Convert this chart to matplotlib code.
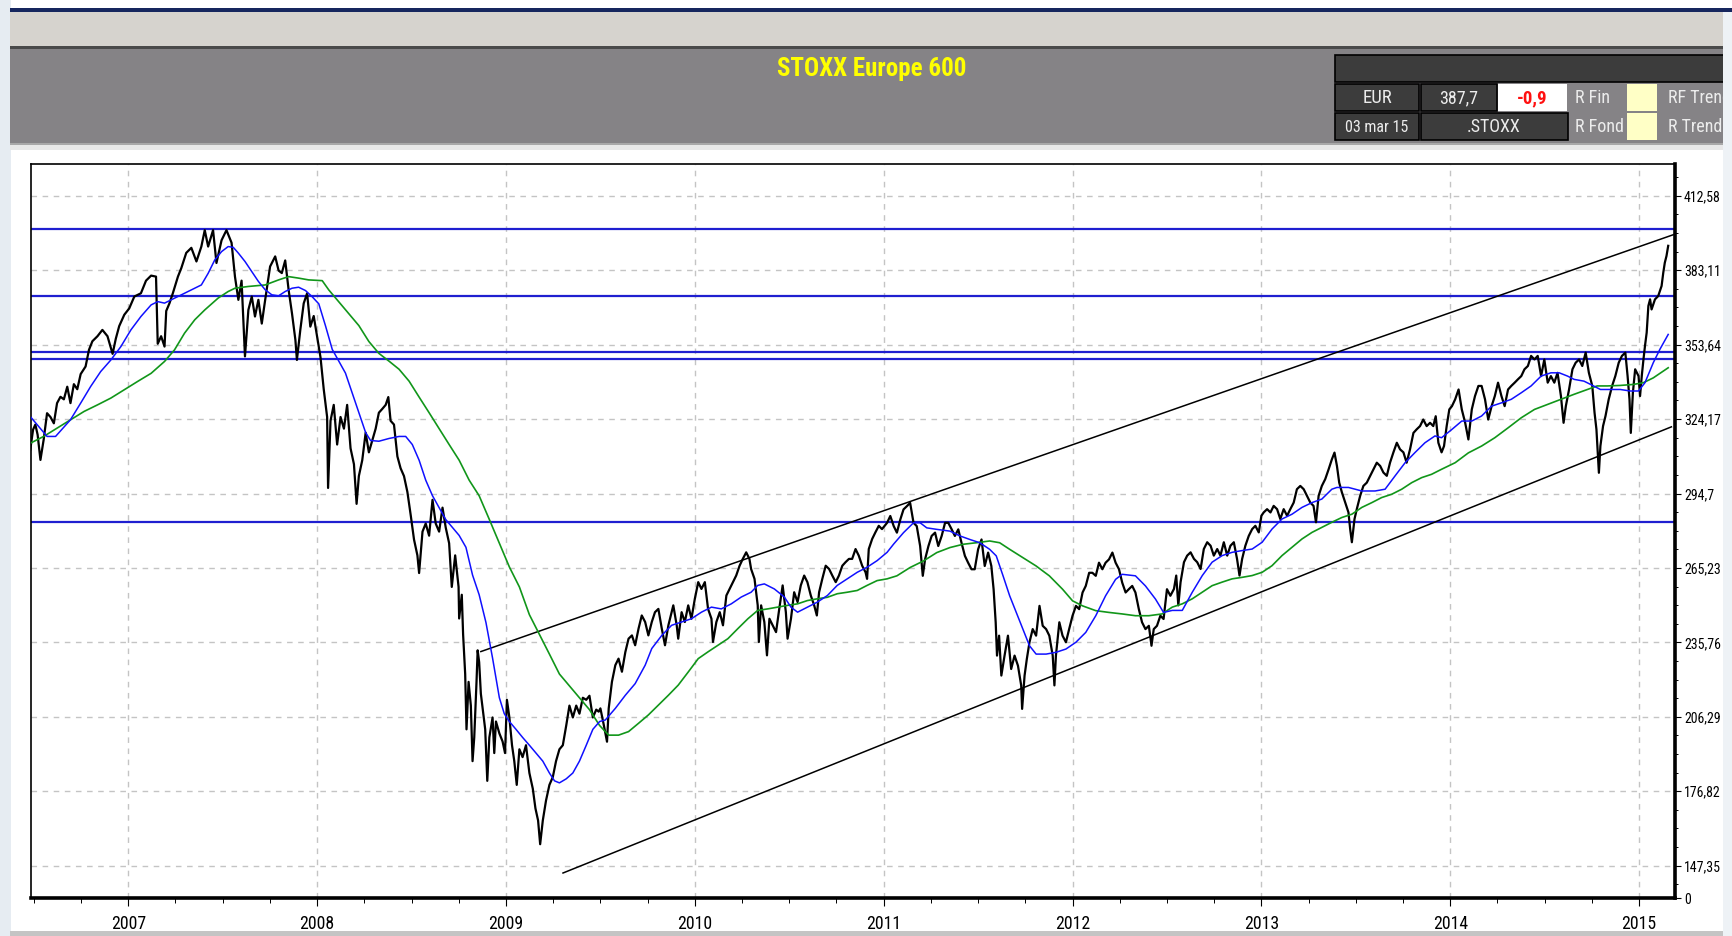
import os
import matplotlib
matplotlib.use("Agg")
import matplotlib.pyplot as plt
from matplotlib.patches import Rectangle
from matplotlib.ticker import FixedLocator, MultipleLocator
from matplotlib import font_manager
from matplotlib.font_manager import FontProperties

# --- data (decimal years, index points) ---
price_t = [
    2006.481, 2006.496, 2006.508, 2006.520, 2006.535, 2006.552, 2006.570, 2006.588, 2006.606, 2006.623,
    2006.641, 2006.659, 2006.677, 2006.694, 2006.712, 2006.730, 2006.748, 2006.774, 2006.792, 2006.810,
    2006.837, 2006.863, 2006.890, 2006.917, 2006.934, 2006.952, 2006.979, 2007.005, 2007.032, 2007.067,
    2007.094, 2007.121, 2007.147, 2007.156, 2007.174, 2007.192, 2007.201, 2007.218, 2007.236, 2007.263,
    2007.281, 2007.307, 2007.334, 2007.361, 2007.387, 2007.405, 2007.423, 2007.449, 2007.467, 2007.494,
    2007.520, 2007.547, 2007.565, 2007.583, 2007.600, 2007.618, 2007.636, 2007.654, 2007.671, 2007.689,
    2007.707, 2007.725, 2007.751, 2007.778, 2007.796, 2007.813, 2007.831, 2007.849, 2007.867, 2007.885,
    2007.893, 2007.911, 2007.929, 2007.947, 2007.964, 2007.982, 2008.000,
    2008.018, 2008.035, 2008.053, 2008.058, 2008.071, 2008.088, 2008.106, 2008.124, 2008.142, 2008.159,
    2008.177, 2008.195, 2008.209, 2008.221, 2008.239, 2008.257, 2008.274, 2008.292, 2008.310, 2008.327,
    2008.345, 2008.363, 2008.377, 2008.389, 2008.407, 2008.425, 2008.442, 2008.460, 2008.478, 2008.496,
    2008.513, 2008.531, 2008.540, 2008.558, 2008.575, 2008.593, 2008.611, 2008.628, 2008.646, 2008.664,
    2008.681, 2008.699, 2008.713, 2008.731, 2008.749, 2008.752, 2008.766, 2008.773, 2008.784, 2008.791,
    2008.802, 2008.814, 2008.823, 2008.832, 2008.844, 2008.850, 2008.858, 2008.867, 2008.880, 2008.890,
    2008.901, 2008.912, 2008.929, 2008.938, 2008.947, 2008.965, 2008.982, 2008.995, 2009.005, 2009.018,
    2009.032, 2009.044, 2009.057, 2009.071, 2009.088, 2009.106, 2009.124, 2009.142, 2009.156, 2009.170,
    2009.181, 2009.195, 2009.212, 2009.230, 2009.248, 2009.265, 2009.283, 2009.301, 2009.319, 2009.336,
    2009.354, 2009.372, 2009.389, 2009.407, 2009.425, 2009.442, 2009.460, 2009.478,
    2009.491, 2009.500, 2009.518, 2009.535, 2009.544, 2009.561, 2009.579, 2009.596, 2009.614, 2009.632,
    2009.649, 2009.667, 2009.684, 2009.702, 2009.719, 2009.737, 2009.754, 2009.772, 2009.789, 2009.807,
    2009.825, 2009.842, 2009.860, 2009.886, 2009.904, 2009.912, 2009.930, 2009.947, 2009.965, 2009.982,
    2010.000, 2010.018, 2010.035, 2010.053, 2010.070, 2010.088, 2010.096, 2010.114, 2010.132, 2010.149,
    2010.167, 2010.184, 2010.202, 2010.219, 2010.237, 2010.254, 2010.272, 2010.289, 2010.298, 2010.316,
    2010.333, 2010.339, 2010.351, 2010.368, 2010.382, 2010.395, 2010.412, 2010.430, 2010.447, 2010.465,
    2010.482, 2010.491, 2010.509, 2010.526, 2010.544, 2010.561, 2010.579, 2010.596, 2010.614, 2010.632,
    2010.646, 2010.658, 2010.675, 2010.693, 2010.711, 2010.728, 2010.746, 2010.763, 2010.781, 2010.798,
    2010.816, 2010.833, 2010.851, 2010.868, 2010.886, 2010.904, 2010.912, 2010.921, 2010.939, 2010.956,
    2010.974, 2010.991,
    2011.018, 2011.035, 2011.053, 2011.070, 2011.088, 2011.105, 2011.123, 2011.140, 2011.158, 2011.175,
    2011.193, 2011.207, 2011.219, 2011.237, 2011.254, 2011.272, 2011.289, 2011.307, 2011.325, 2011.342,
    2011.360, 2011.377, 2011.395, 2011.412, 2011.430, 2011.447, 2011.465, 2011.482, 2011.500, 2011.518,
    2011.535, 2011.553, 2011.570, 2011.582, 2011.593, 2011.600, 2011.611, 2011.623, 2011.640, 2011.658,
    2011.675, 2011.693, 2011.711, 2011.728, 2011.733, 2011.746, 2011.758, 2011.772, 2011.789, 2011.807,
    2011.825, 2011.842, 2011.860, 2011.877, 2011.895, 2011.904, 2011.912, 2011.930, 2011.947, 2011.965,
    2011.982, 2012.000, 2012.018, 2012.035, 2012.053, 2012.070, 2012.088, 2012.105, 2012.123, 2012.140,
    2012.158, 2012.175, 2012.193, 2012.211, 2012.228, 2012.246, 2012.263, 2012.281, 2012.298, 2012.316,
    2012.333, 2012.351, 2012.368, 2012.386, 2012.404, 2012.418, 2012.430, 2012.447, 2012.465, 2012.482,
    2012.500, 2012.518,
    2012.537, 2012.549, 2012.560, 2012.572, 2012.590, 2012.607, 2012.625, 2012.643, 2012.660, 2012.678,
    2012.695, 2012.713, 2012.731, 2012.748, 2012.766, 2012.783, 2012.801, 2012.819, 2012.836, 2012.854,
    2012.871, 2012.884, 2012.898, 2012.915, 2012.933, 2012.951, 2012.968, 2012.986, 2013.000, 2013.012,
    2013.030, 2013.048, 2013.065, 2013.083, 2013.100, 2013.118, 2013.136, 2013.153, 2013.171, 2013.188,
    2013.206, 2013.224, 2013.241, 2013.259, 2013.276, 2013.289, 2013.303, 2013.320, 2013.338, 2013.356,
    2013.373, 2013.387, 2013.400, 2013.412, 2013.426, 2013.444, 2013.461, 2013.470, 2013.479, 2013.493,
    2013.505, 2013.523, 2013.540, 2013.558, 2013.576, 2013.593, 2013.611, 2013.629, 2013.646, 2013.664,
    2013.681, 2013.699, 2013.717, 2013.734, 2013.752, 2013.769, 2013.787, 2013.805, 2013.822, 2013.840,
    2013.857, 2013.875, 2013.893, 2013.910, 2013.923, 2013.937, 2013.954, 2013.967, 2013.981, 2013.995,
    2014.009, 2014.026, 2014.044, 2014.061, 2014.079, 2014.096, 2014.114, 2014.131, 2014.149, 2014.166,
    2014.184, 2014.201, 2014.219, 2014.236, 2014.253, 2014.271, 2014.288, 2014.306, 2014.323, 2014.341,
    2014.358, 2014.376, 2014.393, 2014.411, 2014.428, 2014.446, 2014.463, 2014.481, 2014.498, 2014.516,
    2014.533, 2014.551, 2014.568, 2014.586, 2014.600, 2014.612, 2014.629, 2014.647, 2014.664, 2014.682,
    2014.699, 2014.717, 2014.734, 2014.752, 2014.764, 2014.774, 2014.787, 2014.795, 2014.809, 2014.822,
    2014.839, 2014.857, 2014.874, 2014.892, 2014.909, 2014.927, 2014.939, 2014.949, 2014.956, 2014.967,
    2014.979, 2014.997, 2015.005, 2015.014, 2015.023, 2015.031, 2015.040, 2015.049, 2015.058, 2015.066,
    2015.084, 2015.101, 2015.119, 2015.128, 2015.136, 2015.145, 2015.154,
]
price_v = [
    312.0, 320.0, 322.0, 318.0, 308.0, 316.0, 326.5, 325.0, 322.5, 330.5,
    333.0, 332.0, 337.0, 330.5, 338.0, 336.0, 342.0, 345.0, 351.6, 355.0,
    357.0, 359.5, 357.0, 350.0, 356.0, 361.0, 365.5, 368.0, 372.7, 374.0,
    379.0, 381.0, 380.6, 354.0, 357.0, 352.9, 367.0, 370.0, 374.0, 380.6,
    384.0, 390.0, 392.0, 386.6, 392.5, 399.0, 392.5, 399.0, 386.0, 395.0,
    399.0, 394.0, 380.6, 371.4, 379.0, 349.0, 367.4, 372.7, 364.8, 371.4,
    362.0, 371.4, 384.6, 388.6, 383.0, 382.0, 387.0, 375.4, 366.0, 355.5,
    347.6, 359.5, 370.0, 374.0, 360.8, 365.0, 356.9,
    348.6, 336.0, 325.0, 296.9, 323.5, 329.8, 314.1, 325.0, 320.4, 329.8,
    312.6, 306.3, 290.6, 301.6, 307.9, 318.8, 311.0, 315.7, 320.4, 326.7,
    328.2, 329.8, 332.9, 323.5, 322.0, 309.4, 304.7, 301.6, 295.3, 285.9,
    276.5, 270.2, 263.2, 279.6, 282.8, 278.0, 292.2, 282.8, 279.6, 289.1,
    281.2, 275.0, 257.7, 270.2, 257.7, 245.2, 254.6, 238.9, 223.2, 201.3,
    220.1, 210.7, 188.7, 198.1, 220.1, 232.6, 227.9, 215.4, 207.5, 201.3,
    180.9, 198.1, 206.0, 191.9, 204.4, 199.7, 196.5, 191.9, 213.0, 206.0,
    195.0, 188.7, 179.3, 193.4, 190.3, 195.0, 184.0, 177.8, 170.0, 165.2,
    155.8, 165.2, 173.1, 179.3, 182.4, 188.7, 193.4, 195.0, 202.8, 210.7,
    206.0, 210.7, 207.5, 213.8, 213.0, 214.6, 206.0, 209.1,
    208.3, 209.6, 203.0, 196.4, 209.6, 220.1, 226.7, 229.3, 224.1, 231.9,
    237.2, 238.5, 234.6, 241.2, 246.4, 243.8, 238.5, 243.8, 247.7, 249.0,
    241.2, 234.6, 242.5, 250.4, 242.5, 237.2, 247.7, 243.8, 250.4, 245.1,
    253.0, 259.6, 256.9, 259.6, 249.0, 245.1, 235.9, 243.8, 247.7, 242.5,
    254.3, 256.9, 259.6, 262.2, 266.1, 268.8, 271.4, 268.8, 264.8, 260.9,
    250.4, 235.9, 250.4, 243.8, 230.6, 245.1, 242.5, 239.8, 249.0, 258.3,
    247.7, 237.2, 245.1, 255.6, 251.7, 258.3, 262.2, 259.6, 254.3, 250.4,
    246.4, 255.6, 260.9, 266.1, 264.8, 262.2, 259.6, 262.2, 266.1, 267.5,
    268.8, 268.8, 272.7, 270.1, 266.1, 263.5, 260.9, 272.7, 276.7, 279.3,
    281.9, 280.6,
    283.1, 285.8, 281.8, 279.2, 284.4, 288.4, 289.7, 291.0, 283.1, 281.8,
    273.9, 262.1, 268.6, 273.9, 277.9, 279.2, 273.9, 277.9, 283.1, 283.1,
    280.5, 277.9, 280.5, 275.2, 270.0, 267.3, 264.7, 264.7, 272.6, 276.5,
    266.0, 271.3, 266.0, 256.8, 243.7, 230.5, 238.4, 222.6, 230.5, 238.4,
    225.2, 230.5, 226.5, 218.7, 209.4, 222.6, 229.2, 235.8, 241.0, 238.4,
    250.2, 242.3, 241.0, 238.4, 230.5, 218.7, 230.5, 243.7, 238.4, 235.8,
    241.0, 246.3, 250.2, 248.9, 255.5, 258.1, 263.3, 263.3, 262.1, 267.3,
    264.7, 267.3, 268.6, 271.3, 267.3, 264.7, 259.4, 255.5, 256.8, 258.1,
    255.5, 248.9, 243.7, 241.0, 242.3, 234.4, 241.0, 242.3, 246.3, 245.0,
    256.8, 254.2,
    256.9, 262.2, 250.4, 259.6, 267.5, 270.1, 271.4, 268.8, 267.5, 264.8,
    272.7, 275.4, 274.0, 270.1, 272.7, 270.1, 275.4, 270.1, 274.0, 275.4,
    268.8, 262.2, 268.8, 274.0, 277.9, 280.6, 281.9, 279.3, 285.9, 287.2,
    288.5, 287.2, 289.8, 288.5, 284.6, 288.5, 285.9, 288.5, 291.1, 296.4,
    297.7, 296.4, 293.8, 291.1, 289.8, 283.3, 293.8, 297.7, 300.4, 304.3,
    308.2, 310.9, 305.6, 299.0, 295.2, 291.1, 287.2, 280.6, 275.4, 284.6,
    288.5, 293.8, 297.7, 299.0, 301.7, 304.3, 306.9, 305.6, 303.0, 301.7,
    306.9, 311.0, 314.8, 312.2, 311.0, 306.9, 312.2, 318.7, 320.1, 321.4,
    324.0, 321.4, 322.7, 321.4, 325.3, 314.8, 311.0, 313.5, 321.4, 328.0,
    329.3, 332.0, 335.9, 328.0, 322.7, 316.1, 328.0, 333.3, 337.3, 337.3,
    332.0, 324.0, 329.3, 333.3, 338.6, 333.3, 329.3, 335.9, 337.3, 338.6,
    339.9, 341.2, 343.9, 345.2, 349.2, 347.8, 349.2, 341.2, 347.8, 338.6,
    341.2, 338.6, 342.5, 333.3, 322.7, 329.3, 335.9, 343.9, 346.5, 347.8,
    345.2, 350.5, 342.5, 337.3, 326.7, 320.1, 302.9, 313.5, 321.4, 325.4,
    332.0, 337.3, 341.2, 346.5, 349.2, 350.5, 341.2, 332.0, 318.7, 334.6,
    343.9, 341.2, 333.3, 341.2, 347.8, 353.1, 358.4, 369.0, 371.6, 367.6,
    371.6, 372.9, 376.9, 382.2, 386.1, 388.8, 392.8,
]

# short moving average (blue)
ma_fast_t = [
    2006.481, 2006.570, 2006.615, 2006.694, 2006.748, 2006.801, 2006.854, 2006.908, 2006.961, 2007.014,
    2007.067, 2007.121, 2007.156, 2007.192, 2007.227, 2007.281, 2007.334, 2007.387, 2007.423, 2007.458,
    2007.494, 2007.529, 2007.556, 2007.583, 2007.618, 2007.654, 2007.689, 2007.725, 2007.760, 2007.796,
    2007.831, 2007.867, 2007.902, 2007.938, 2007.973, 2008.009, 2008.044, 2008.080, 2008.115, 2008.150,
    2008.186, 2008.221, 2008.257, 2008.283, 2008.327, 2008.381, 2008.434, 2008.469, 2008.504, 2008.540,
    2008.575, 2008.611, 2008.646, 2008.681, 2008.717, 2008.752, 2008.788, 2008.823, 2008.858, 2008.894,
    2008.929, 2008.965, 2008.991, 2009.018, 2009.053, 2009.088, 2009.124, 2009.159, 2009.195, 2009.230,
    2009.257, 2009.283, 2009.319, 2009.354, 2009.389, 2009.425, 2009.460, 2009.496, 2009.526, 2009.579,
    2009.632, 2009.684, 2009.737, 2009.772, 2009.825, 2009.877, 2009.930, 2009.982, 2010.035, 2010.088,
    2010.140, 2010.193, 2010.246, 2010.298, 2010.333, 2010.368, 2010.421, 2010.474, 2010.509, 2010.544,
    2010.596, 2010.649, 2010.702, 2010.754, 2010.807, 2010.860, 2010.912, 2010.965, 2011.018, 2011.053,
    2011.105, 2011.158, 2011.193, 2011.228, 2011.281, 2011.351, 2011.404, 2011.456, 2011.509, 2011.561,
    2011.596, 2011.632, 2011.667, 2011.702, 2011.737, 2011.772, 2011.807, 2011.860, 2011.912, 2011.965,
    2012.018, 2012.070, 2012.123, 2012.175, 2012.228, 2012.263, 2012.333, 2012.386, 2012.439, 2012.482,
    2012.528, 2012.581, 2012.634, 2012.687, 2012.739, 2012.792, 2012.845, 2012.898, 2012.951, 2013.004,
    2013.056, 2013.109, 2013.162, 2013.215, 2013.268, 2013.320, 2013.373, 2013.400, 2013.461, 2013.532,
    2013.602, 2013.655, 2013.708, 2013.761, 2013.813, 2013.866, 2013.919, 2013.954, 2014.009, 2014.061,
    2014.114, 2014.166, 2014.219, 2014.271, 2014.323, 2014.376, 2014.428, 2014.481, 2014.533, 2014.577,
    2014.621, 2014.656, 2014.708, 2014.743, 2014.795, 2014.848, 2014.900, 2014.953, 2014.997, 2015.031,
    2015.075, 2015.110, 2015.154,
]
ma_fast_v = [
    325.2, 317.3, 317.3, 323.9, 330.5, 337.1, 343.0, 347.6, 352.9, 359.5,
    364.8, 369.4, 370.7, 370.1, 371.4, 373.4, 375.4, 377.3, 381.9, 387.2,
    390.5, 392.5, 392.2, 389.9, 386.6, 382.6, 378.7, 375.4, 373.4, 373.0,
    374.7, 376.0, 376.4, 375.1, 372.7, 369.8, 361.2, 351.8, 347.1, 342.4,
    334.5, 326.7, 318.8, 315.7, 315.4, 316.5, 317.3, 317.3, 314.1, 307.9,
    300.0, 293.8, 289.1, 284.4, 281.2, 278.1, 273.4, 262.4, 254.6, 243.6,
    229.5, 213.8, 207.5, 204.4, 201.3, 198.1, 195.0, 191.9, 188.7, 184.0,
    180.9, 180.1, 181.7, 184.0, 188.7, 195.0, 201.3, 204.4, 205.0, 209.6,
    214.8, 219.4, 226.7, 233.3, 238.5, 242.5, 243.8, 245.1, 247.7, 249.7,
    249.0, 251.0, 253.7, 255.6, 258.3, 258.9, 256.9, 253.7, 249.7, 247.7,
    249.7, 251.7, 254.3, 258.3, 260.9, 263.5, 265.5, 268.1, 271.4, 274.7,
    279.2, 283.1, 283.1, 281.1, 280.5, 279.8, 277.9, 276.5, 275.2, 272.6,
    270.0, 262.1, 254.2, 247.6, 241.0, 234.4, 231.1, 231.1, 231.8, 233.1,
    235.8, 239.7, 246.3, 254.2, 260.7, 262.7, 262.1, 258.1, 252.9, 247.6,
    248.4, 248.4, 255.6, 262.2, 267.5, 270.1, 271.4, 272.1, 272.7, 275.4,
    280.6, 284.6, 286.5, 289.2, 291.1, 292.5, 296.4, 297.1, 297.1, 295.7,
    295.7, 296.4, 301.7, 306.9, 310.9, 314.8, 317.5, 316.8, 320.1, 323.4,
    323.4, 325.4, 329.3, 330.6, 332.0, 334.6, 337.3, 341.2, 342.5, 342.5,
    341.2, 339.9, 339.2, 337.9, 335.9, 335.9, 335.9, 335.3, 335.3, 338.6,
    346.5, 351.8, 357.7,
]

# long moving average (green)
ma_slow_t = [
    2006.481, 2006.552, 2006.623, 2006.694, 2006.766, 2006.837, 2006.908, 2006.979, 2007.050, 2007.121,
    2007.192, 2007.245, 2007.298, 2007.352, 2007.405, 2007.476, 2007.529, 2007.565, 2007.636, 2007.725,
    2007.796, 2007.849, 2007.902, 2007.955, 2008.027, 2008.062, 2008.115, 2008.168, 2008.221, 2008.274,
    2008.327, 2008.381, 2008.434, 2008.487, 2008.540, 2008.593, 2008.646, 2008.699, 2008.752, 2008.805,
    2008.858, 2008.912, 2008.965, 2009.018, 2009.071, 2009.124, 2009.177, 2009.230, 2009.283, 2009.336,
    2009.389, 2009.442, 2009.496, 2009.544, 2009.596, 2009.649, 2009.702, 2009.754, 2009.807, 2009.860,
    2009.912, 2009.965, 2010.018, 2010.070, 2010.123, 2010.175, 2010.228, 2010.281, 2010.333, 2010.386,
    2010.439, 2010.491, 2010.544, 2010.596, 2010.649, 2010.702, 2010.754, 2010.807, 2010.860, 2010.912,
    2010.965, 2011.018, 2011.070, 2011.140, 2011.211, 2011.281, 2011.351, 2011.421, 2011.491, 2011.561,
    2011.614, 2011.667, 2011.737, 2011.807, 2011.877, 2011.947, 2012.000, 2012.053, 2012.123, 2012.193,
    2012.263, 2012.333, 2012.404, 2012.474, 2012.528, 2012.581, 2012.634, 2012.687, 2012.739, 2012.792,
    2012.845, 2012.898, 2012.951, 2013.004, 2013.056, 2013.109, 2013.162, 2013.215, 2013.268, 2013.320,
    2013.373, 2013.426, 2013.479, 2013.532, 2013.585, 2013.637, 2013.690, 2013.743, 2013.796, 2013.849,
    2013.901, 2013.954, 2014.026, 2014.096, 2014.166, 2014.236, 2014.306, 2014.376, 2014.446, 2014.516,
    2014.586, 2014.656, 2014.726, 2014.778, 2014.831, 2014.900, 2014.970, 2015.023, 2015.075, 2015.154,
]
ma_slow_v = [
    314.6, 317.3, 320.6, 323.9, 327.2, 329.8, 332.5, 335.8, 339.1, 342.3,
    347.0, 351.6, 358.2, 363.5, 367.4, 372.1, 374.7, 376.0, 376.7, 377.3,
    379.3, 380.6, 380.0, 379.3, 379.0, 375.3, 370.6, 365.9, 361.2, 354.9,
    350.2, 347.1, 343.9, 339.2, 332.9, 326.7, 320.4, 314.1, 307.9, 300.0,
    293.8, 284.4, 275.0, 265.6, 257.7, 246.7, 238.9, 231.1, 223.2, 218.5,
    213.8, 209.1, 202.8, 199.0, 199.0, 200.4, 203.7, 207.0, 210.9, 214.8,
    218.8, 224.0, 229.3, 232.0, 234.6, 237.2, 241.2, 245.1, 248.4, 249.0,
    249.7, 250.4, 251.0, 252.3, 253.0, 253.6, 255.0, 255.6, 256.3, 258.3,
    260.2, 260.9, 262.1, 265.4, 268.0, 271.3, 273.3, 274.6, 275.2, 275.9,
    275.2, 272.6, 269.3, 266.0, 262.1, 256.8, 252.2, 250.2, 248.3, 247.6,
    247.0, 246.3, 246.3, 247.0, 249.7, 251.0, 253.0, 255.6, 258.2, 259.6,
    260.9, 261.5, 262.2, 263.5, 266.1, 270.1, 273.4, 276.7, 279.3, 281.3,
    283.3, 285.2, 286.5, 289.2, 291.1, 293.1, 294.4, 296.4, 299.0, 301.0,
    302.3, 304.3, 306.9, 310.8, 313.5, 316.8, 320.7, 324.7, 328.0, 330.0,
    332.0, 334.0, 335.9, 337.3, 337.3, 337.5, 337.9, 338.6, 340.5, 344.5,
]

# horizontal support / resistance levels
levels = [399.5, 372.8, 350.6, 347.9, 283.4]

# trend channel (start year, start value, end year, end value)
channel_upper = [2008.867, 232.1, 2015.189, 397.4]
channel_lower = [2009.302, 144.4, 2015.171, 321.1]

y_ticks = [147.35, 176.82, 206.29, 235.76, 265.23, 294.70, 324.17, 353.64, 383.11, 412.58]
y_labels = ["147,35", "176,82", "206,29", "235,76", "265,23", "294,7", "324,17", "353,64", "383,11", "412,58"]
years = [2007, 2008, 2009, 2010, 2011, 2012, 2013, 2014, 2015]

title = "STOXX Europe 600"
panel_row1 = ["EUR", "387,7", "-0,9", "R Fin", "RF Trend"]
panel_row2 = ["03 mar 15", ".STOXX", "R Fond", "R Trend"]


# narrow font: pick a condensed face if one is installed
def narrow_font(bold=False):
    wanted = ["Liberation Sans Narrow", "Roboto Condensed", "Open Sans Condensed", "Arial Narrow"]
    for name in wanted:
        for f in font_manager.fontManager.ttflist:
            if f.name == name and (f.weight in ("bold", 700)) == bold and f.style == "normal":
                return f.fname
    target = "DejaVuSansCondensed-Bold.ttf" if bold else "DejaVuSansCondensed.ttf"
    for f in font_manager.fontManager.ttflist:
        if os.path.basename(f.fname) == target:
            return f.fname
    return None


reg_path = narrow_font(False)
bold_path = narrow_font(True)
FP = FontProperties(fname=reg_path) if reg_path else FontProperties(family="DejaVu Sans")
FPB = FontProperties(fname=bold_path) if bold_path else FontProperties(family="DejaVu Sans", weight="bold")

# --- figure ---
W, H = 1733, 936
fig = plt.figure(figsize=(W / 100, H / 100), dpi=100)
fig.patch.set_facecolor("white")


def box(x0, y0, x1, y1, fc, ec="none", lw=0, z=1):
    fig.add_artist(Rectangle((x0 / W, 1 - y1 / H), (x1 - x0) / W, (y1 - y0) / H,
                             transform=fig.transFigure, fc=fc, ec=ec, lw=lw, zorder=z))


def txt(x, y, s, size, bold=False, **kw):
    fp = (FPB if bold else FP).copy()
    fp.set_size(size)
    fig.text(x / W, 1 - y / H, s, fontproperties=fp, **kw)


# window background / header
box(0, 0, 11, H, "#e6ecf2", z=0)
box(10, 8, W, 12, "#16265e")
box(10, 12, 1723, 46, "#d6d3ce")
box(10, 46, 1723, 49, "#4a4a4a")
box(10, 49, 1723, 143, "#858386")
box(10, 143, 1723, 145, "#a8a8a8")
box(10, 145, 1723, 150, "#e8e8e8")
box(10, 931, 1723, H, "#c4c4c4")

txt(872, 69, title, 18, bold=True, color="#ffff00", ha="center", va="center")

# info panel
dark = "#3c3c3c"
box(1335, 55, 1733, 82, dark, ec="black", lw=1.2, z=2)
box(1335, 84, 1419, 111, dark, ec="black", lw=1.2, z=2)
box(1421, 84, 1497, 111, dark, ec="black", lw=1.2, z=2)
box(1498, 84, 1567, 111, "white", z=2)
box(1627, 84, 1657, 111, "#ffffc6", z=2)
box(1335, 113, 1419, 140, dark, ec="black", lw=1.2, z=2)
box(1421, 113, 1568, 140, dark, ec="black", lw=1.2, z=2)
box(1627, 113, 1657, 140, "#ffffc6", z=2)
light = "#ececec"
txt(1377, 98, panel_row1[0], 13.5, color=light, ha="center", va="center", zorder=3)
txt(1459, 98, panel_row1[1], 13, color=light, ha="center", va="center", zorder=3)
txt(1532, 98, panel_row1[2], 13.5, bold=True, color="#ff1010", ha="center", va="center", zorder=3)
txt(1575, 98, panel_row1[3], 13, color=light, ha="left", va="center", zorder=3)
txt(1668, 98, panel_row1[4], 13, color=light, ha="left", va="center", zorder=3)
txt(1377, 127, panel_row2[0], 11.5, color=light, ha="center", va="center", zorder=3)
txt(1494, 127, panel_row2[1], 13, color=light, ha="center", va="center", zorder=3)
txt(1575, 127, panel_row2[2], 13, color=light, ha="left", va="center", zorder=3)
txt(1668, 127, panel_row2[3], 13, color=light, ha="left", va="center", zorder=3)
box(1723, 12, W, H, "#eef2f6", z=5)

# --- chart ---
ax = fig.add_axes([31 / W, 1 - 898 / H, (1675 - 31) / W, (898 - 164) / H])
ax.set_xlim(2006.485, 2015.19)
ax.set_ylim(134.5, 425.2)

for lv in levels:
    ax.axhline(lv, color="#1f1fd0", lw=1.6, zorder=2)
for seg in (channel_upper, channel_lower):
    ax.plot([seg[0], seg[2]], [seg[1], seg[3]], color="black", lw=1.1, zorder=2)

ax.plot(price_t, price_v, color="black", lw=1.6, zorder=3)
ax.plot(ma_slow_t, ma_slow_v, color="#11961a", lw=1.2, zorder=4)
ax.plot(ma_fast_t, ma_fast_v, color="#1010ff", lw=1.1, zorder=4)

ax.grid(True, which="major", color="#c4c4c4", linestyle=(0, (4, 4)), lw=1, zorder=0)
ax.set_axisbelow(True)

ax.yaxis.tick_right()
ax.set_yticks(y_ticks + [134.5])
ax.set_yticklabels(y_labels + ["0"])
ax.yaxis.set_minor_locator(FixedLocator([y_ticks[0] + k * (y_ticks[1] - y_ticks[0]) / 4 for k in range(-1, 38)]))
ax.set_xticks(years)
ax.set_xticklabels([str(y) for y in years])
ax.xaxis.set_minor_locator(MultipleLocator(0.25))

ax.tick_params(axis="y", which="major", length=4.5, width=0.8, pad=2)
ax.tick_params(axis="y", which="minor", length=2.5, width=0.7)
ax.tick_params(axis="x", which="major", length=6, width=0.8, pad=6)
ax.tick_params(axis="x", which="minor", length=3.5, width=0.7)

fpy = FP.copy()
fpy.set_size(10)
for lbl in ax.get_yticklabels():
    lbl.set_fontproperties(fpy)
fpx = FP.copy()
fpx.set_size(12.8)
for lbl in ax.get_xticklabels():
    lbl.set_fontproperties(fpx)

ax.spines["left"].set_linewidth(1.2)
ax.spines["top"].set_linewidth(1.2)
ax.spines["right"].set_linewidth(2.6)
ax.spines["bottom"].set_linewidth(2.6)

fig.savefig("out.png", dpi=100)
